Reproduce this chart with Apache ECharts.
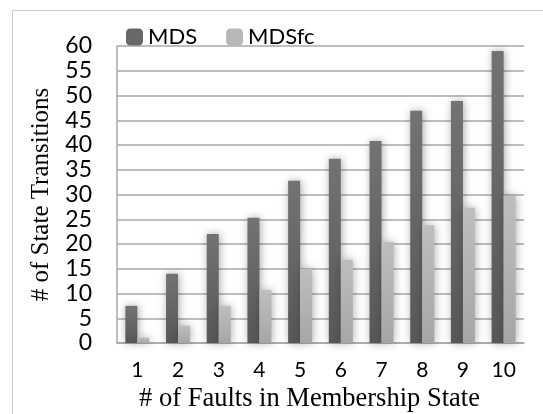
<!DOCTYPE html>
<html>
<head>
<meta charset="utf-8">
<script src="https://cdn.jsdelivr.net/npm/echarts@6/dist/echarts.min.js"></script>
<style>
  html, body { margin: 0; padding: 0; background: #fff; }
  #chart { width: 543px; height: 414px; }
</style>
</head>
<body>
<div id="chart"></div>
<script>
// values
var faults = ['1', '2', '3', '4', '5', '6', '7', '8', '9', '10'];
var mds = [7.5, 14, 22, 25.3, 32.8, 37.2, 40.8, 46.9, 48.9, 59];
var mdsfc = [1.1, 3.5, 7.5, 10.7, 15, 16.8, 20.4, 23.8, 27.3, 29.8];

var chart = echarts.init(document.getElementById('chart'));

function barFill(top, bottom) {
    return new echarts.graphic.LinearGradient(0, 0, 0, 1, [
        { offset: 0, color: top },
        { offset: 1, color: bottom }
    ]);
}

chart.setOption({
    animation: false,
    graphic: [
        {
            type: 'rect',
            shape: { x: 12.5, y: 10.5, width: 560, height: 420 },
            style: { fill: 'none', stroke: '#c8c8c8', lineWidth: 1 },
            z: -1
        }
    ],
    legend: {
        left: 121,
        top: 21,
        itemWidth: 17,
        itemHeight: 17,
        itemGap: 29,
        textStyle: { fontFamily: 'Lato', fontSize: 22, color: '#000' },
        data: [
            { name: 'MDS', itemStyle: { color: '#686868' } },
            { name: 'MDSfc', itemStyle: { color: '#b8b8b8' } }
        ]
    },
    grid: { left: 117, right: 19, top: 46, bottom: 71, outerBoundsMode: 'none' },
    xAxis: {
        type: 'category',
        data: faults,
        name: '# of Faults in Membership State',
        nameLocation: 'middle',
        nameGap: 38,
        nameTextStyle: { fontFamily: 'Liberation Serif', fontSize: 26.5, color: '#000', padding: [0, 22, 0, 0] },
        axisLine: { lineStyle: { color: '#a8a8a8', width: 1.5 } },
        axisTick: { show: false },
        axisLabel: { fontFamily: 'Lato', fontSize: 21, color: '#000', margin: 17 }
    },
    yAxis: {
        type: 'value',
        min: 0,
        max: 60,
        interval: 5,
        name: '# of State Transitions',
        nameLocation: 'middle',
        nameGap: 60,
        nameTextStyle: { fontFamily: 'Liberation Serif', fontSize: 25, color: '#000' },
        axisLine: { show: true, lineStyle: { color: '#a8a8a8', width: 1.5 } },
        axisTick: { show: false },
        splitLine: { lineStyle: { color: '#a8a8a8', width: 1.5 } },
        axisLabel: { fontFamily: 'Lato', fontSize: 23, color: '#000', margin: 25 }
    },
    series: [
        {
            name: 'MDS',
            type: 'bar',
            data: mds,
            barGap: '0%',
            barCategoryGap: '41%',
            itemStyle: {
                color: barFill('#737373', '#575757'),
                shadowBlur: 8,
                shadowOffsetX: 1,
                shadowColor: 'rgba(0,0,0,0.35)'
            }
        },
        {
            name: 'MDSfc',
            type: 'bar',
            data: mdsfc,
            itemStyle: {
                color: barFill('#bebebe', '#a6a6a6'),
                shadowBlur: 8,
                shadowOffsetX: 1,
                shadowColor: 'rgba(0,0,0,0.3)'
            }
        }
    ]
});
</script>
</body>
</html>
